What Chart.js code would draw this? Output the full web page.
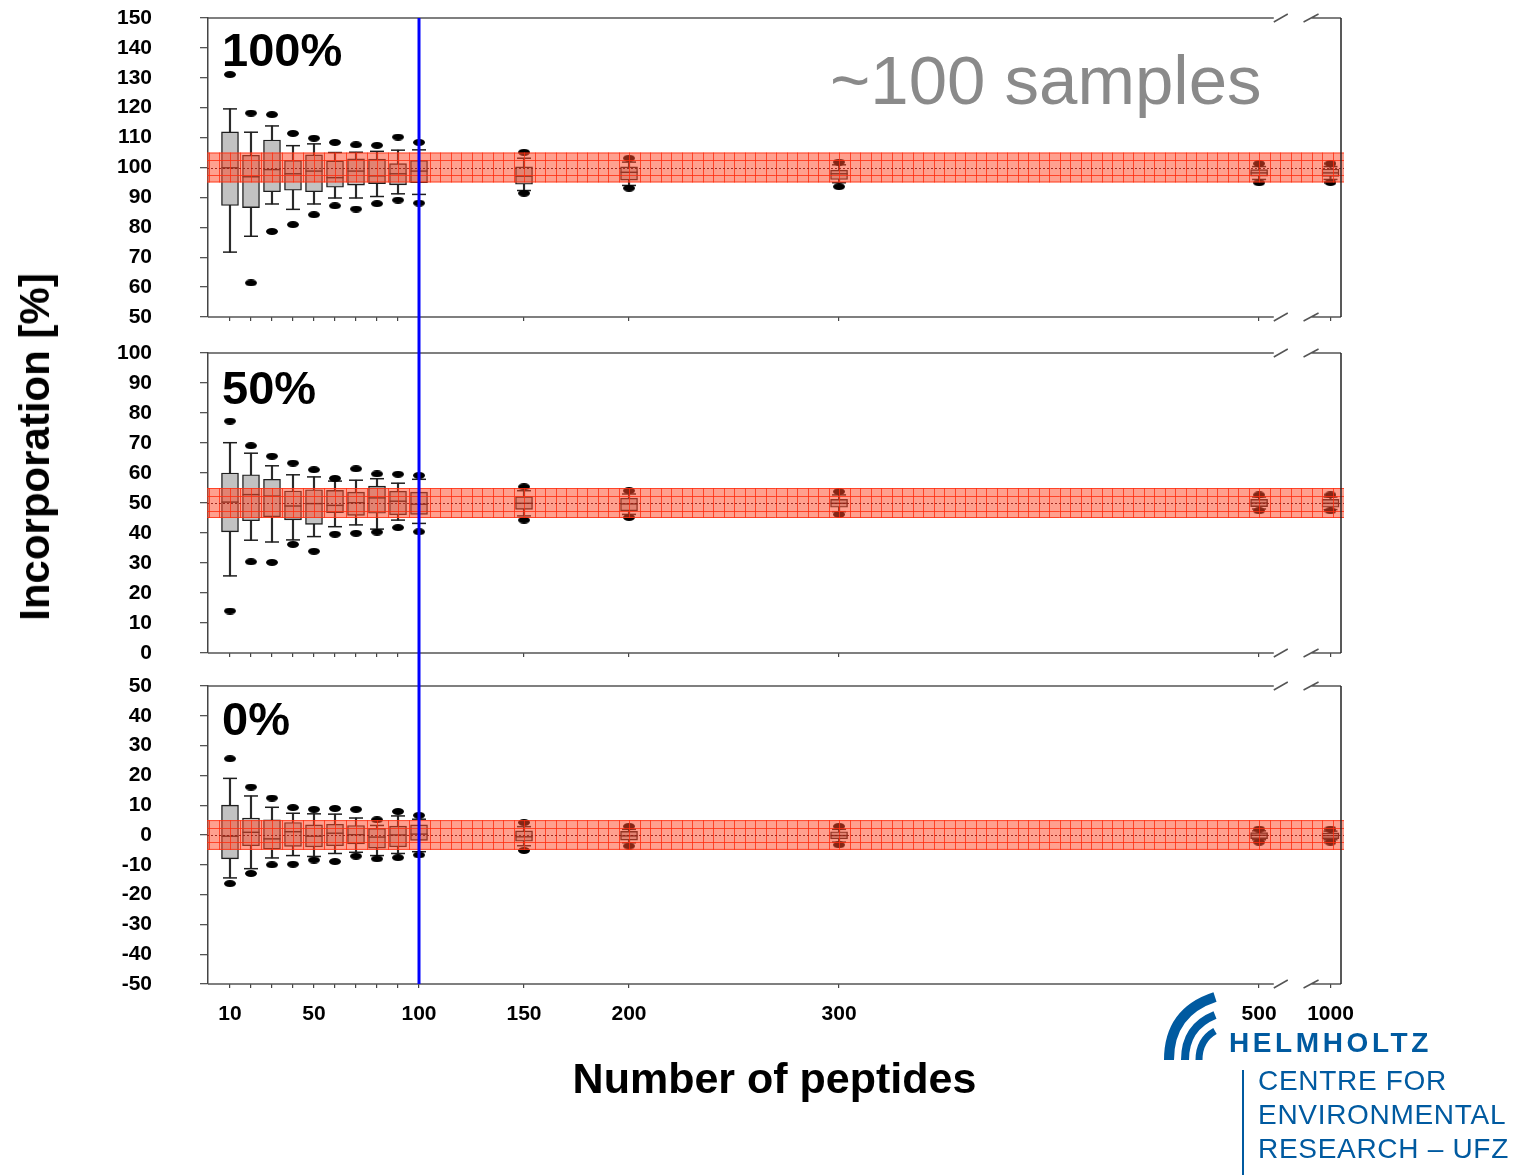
<!doctype html>
<html lang="en">
<head>
<meta charset="utf-8">
<title>Incorporation vs number of peptides</title>
<script src="https://cdn.jsdelivr.net/npm/chart.js"></script>
<style>
  html, body { margin: 0; padding: 0; background: #fff; }
  body { width: 1520px; height: 1175px; position: relative; overflow: hidden;
         font-family: "Liberation Sans", Arial, sans-serif; }
  canvas { position: absolute; left: 0; }
  #panelTop { top: 0; }
  #panelMid { top: 335px; }
  #panelBot { top: 670px; }
  .panel-label { position: absolute; left: 222px; font-weight: bold; font-size: 47px; line-height: 1; color: #000; }
  #ylabel { position: absolute; left: 35px; top: 447px; transform: translate(-50%, -50%) rotate(-90deg);
            font-weight: bold; font-size: 42px; white-space: nowrap; color: #000; }
  #samples { position: absolute; left: 830px; top: 46px; font-size: 69px; line-height: 1; color: #8a8a8a; }
  .ufz { position: absolute; color: #005aa0; white-space: nowrap; }
  #helmholtz { left: 1229px; top: 1029px; font-size: 28px; font-weight: bold; letter-spacing: 3.6px; line-height: 1; }
  #centre { left: 1258px; top: 1064px; font-size: 28px; line-height: 34px; letter-spacing: 0.7px; }
  #ufzbar { position: absolute; left: 1242px; top: 1070px; width: 2px; height: 105px; background: #005aa0; }
  #swoosh { position: absolute; left: 1155px; top: 990px; }
</style>
</head>
<body>
<canvas id="panelTop" width="1520" height="335"></canvas>
<canvas id="panelMid" width="1520" height="335"></canvas>
<canvas id="panelBot" width="1520" height="505"></canvas>

<div id="ylabel">Incorporation [%]</div>
<div class="panel-label" style="top:26px">100%</div>
<div class="panel-label" style="top:364px">50%</div>
<div class="panel-label" style="top:695px">0%</div>
<div id="samples">~100 samples</div>

<svg id="swoosh" width="70" height="72" viewBox="0 0 70 72">
  <g fill="none" stroke="#005aa0" stroke-linecap="butt">
    <path d="M14,70 Q14,22 60,7" stroke-width="10"/>
    <path d="M30,70 Q30,37 60,25" stroke-width="8"/>
    <path d="M44,70 Q44,50 60,41" stroke-width="7"/>
  </g>
</svg>
<div class="ufz" id="helmholtz">HELMHOLTZ</div>
<div id="ufzbar"></div>
<div class="ufz" id="centre">CENTRE FOR<br>ENVIRONMENTAL<br>RESEARCH – UFZ</div>

<script>
// number of peptides per simulated sample set
var peptideCounts = [10, 20, 30, 40, 50, 60, 70, 80, 90, 100, 150, 200, 300, 500, 1000];
var labelledCounts = [10, 50, 100, 150, 200, 300, 500, 1000];

// 100% incorporation
var full_q1      = [87.3, 86.6, 91.9, 92.4, 91.9, 93.4, 94.1, 94.6, 94.2, 94.9, 94.4, 95.8, 96.0, 97.1, 97.0];
var full_q3      = [111.9, 104.1, 109.2, 102.4, 104.2, 102.2, 102.9, 102.8, 101.3, 102.4, 100.2, 100.2, 99.1, 99.3, 99.5];
var full_median  = [99.9, 96.9, 99.3, 97.9, 98.8, 96.6, 98.8, 97.2, 97.9, 98.8, 97.1, 98.4, 97.9, 98.2, 98.2];
var full_whiskLo = [71.7, 77.0, 87.8, 86.0, 87.8, 89.8, 89.8, 90.3, 91.2, 91.0, 92.3, 94.0, 94.9, 96.0, 96.0];
var full_whiskHi = [119.6, 111.8, 113.9, 107.3, 107.9, 105.0, 105.1, 105.4, 105.8, 105.9, 103.1, 101.8, 100.9, 100.3, 100.3];
var full_outLo   = [null, 61.4, 78.6, 80.9, 84.2, 87.2, 86.1, 87.9, 89.1, 88.1, 91.4, 93.1, 93.6, 94.9, 95.0];
var full_outHi   = [131.1, 118.2, 117.7, 111.4, 109.8, 108.4, 107.6, 107.4, 110.2, 108.4, 105.1, 103.1, 101.8, 101.3, 101.3];

// 50% incorporation
var half_q1      = [40.4, 44.1, 45.4, 44.4, 42.9, 46.8, 45.9, 46.6, 46.1, 46.2, 47.9, 47.4, 48.6, 48.8, 48.6];
var half_q3      = [60.0, 59.4, 57.9, 54.0, 54.4, 54.2, 53.6, 55.6, 53.9, 53.6, 52.1, 51.6, 51.2, 51.2, 51.2];
var half_median  = [50.3, 52.8, 52.3, 49.0, 49.8, 49.2, 50.1, 51.7, 50.6, 49.6, 49.9, 49.7, 49.9, 50.0, 49.9];
var half_whiskLo = [25.7, 37.6, 37.0, 37.7, 38.8, 42.1, 42.7, 41.3, 44.3, 43.2, 45.7, 46.2, 47.1, 48.0, 47.8];
var half_whiskHi = [70.1, 66.6, 62.4, 59.4, 58.7, 57.3, 57.6, 58.1, 56.6, 57.9, 54.1, 53.0, 52.7, 52.0, 52.0];
var half_outLo   = [14.0, 30.4, 30.2, 36.2, 33.9, 39.6, 39.9, 40.3, 41.8, 40.4, 44.3, 45.2, 46.2, 47.4, 47.4];
var half_outHi   = [77.3, 69.1, 65.6, 63.3, 61.1, 58.2, 61.4, 59.7, 59.6, 59.2, 55.4, 54.1, 53.8, 52.7, 52.7];

// 0% incorporation
var zero_q1      = [-8.0, -3.6, -4.7, -3.8, -4.0, -3.6, -3.0, -4.4, -4.0, -1.8, -2.1, -1.7, -1.3, -1.2, -1.2];
var zero_q3      = [10.0, 5.7, 5.1, 4.2, 3.4, 3.6, 3.2, 2.2, 3.0, 3.4, 1.4, 1.2, 1.1, 0.8, 0.7];
var zero_median  = [-0.4, 0.9, -1.3, 1.1, -0.4, 0.6, 0.1, -0.7, 0.0, 0.3, -0.6, -0.3, -0.2, -0.1, -0.2];
var zero_whiskLo = [-14.4, -11.3, -7.7, -6.9, -7.2, -6.2, -5.8, -6.9, -6.2, -5.6, -3.6, -2.6, -2.4, -1.6, -1.6];
var zero_whiskHi = [19.0, 13.1, 9.3, 7.3, 7.1, 7.0, 5.7, 3.2, 6.4, 5.3, 2.8, 1.9, 1.9, 1.4, 1.3];
var zero_outLo   = [-16.3, -12.9, -10.0, -9.8, -8.4, -8.9, -7.1, -8.0, -7.6, -6.7, -5.2, -3.7, -3.3, -2.4, -2.4];
var zero_outHi   = [25.6, 16.1, 12.4, 9.2, 8.6, 8.9, 8.6, 5.1, 7.9, 6.6, 4.2, 2.9, 2.9, 2.0, 2.0];

// expected value band (target +/- 5 %)
var bandCenters = [100, 50, 0];
var bandHalfWidth = 5;

// x axis is broken between 500 and 1000; 1000 sits just past the break
var AXIS_1000 = 534;
var AXIS_BREAK = [507, 524.5];
function axisPos(n) { return n === 1000 ? AXIS_1000 : n; }

Chart.defaults.font.family = '"Liberation Sans", Arial, sans-serif';

// black ellipse used for outlier points
var dot = document.createElement('canvas');
dot.width = 12; dot.height = 7;
(function () {
  var g = dot.getContext('2d');
  g.fillStyle = '#000';
  g.beginPath();
  g.ellipse(6, 3.5, 6, 3.5, 0, 0, Math.PI * 2);
  g.fill();
})();

var bandPlugin = {
  id: 'targetBand',
  afterDatasetsDraw: function (chart, args, opts) {
    var ctx = chart.ctx, a = chart.chartArea, x = chart.scales.x, y = chart.scales.y;
    var top = y.getPixelForValue(opts.center + bandHalfWidth);
    var bot = y.getPixelForValue(opts.center - bandHalfWidth);
    var left = a.left - 1, right = a.right + 3;
    ctx.save();
    ctx.fillStyle = 'rgba(255, 72, 40, 0.52)';
    ctx.fillRect(left, top, right - left, bot - top);
    ctx.strokeStyle = 'rgba(255, 45, 15, 0.8)';
    ctx.lineWidth = 1;
    ctx.beginPath();
    for (var v = 0; v < x.max; v += 5) {
      var px = Math.round(x.getPixelForValue(v)) + 0.5;
      ctx.moveTo(px, top); ctx.lineTo(px, bot);
    }
    [opts.center + 2.5, opts.center - 2.5].forEach(function (val) {
      var py = Math.round(y.getPixelForValue(val)) + 0.5;
      ctx.moveTo(left, py); ctx.lineTo(right, py);
    });
    ctx.moveTo(left, top + 0.5); ctx.lineTo(right, top + 0.5);
    ctx.moveTo(left, bot - 0.5); ctx.lineTo(right, bot - 0.5);
    ctx.stroke();
    // dotted target line
    ctx.strokeStyle = 'rgba(150, 30, 20, 0.9)';
    ctx.setLineDash([2, 2]);
    ctx.beginPath();
    var cy = Math.round(y.getPixelForValue(opts.center)) + 0.5;
    ctx.moveTo(left, cy); ctx.lineTo(right, cy);
    ctx.stroke();
    ctx.restore();
  }
};

var framePlugin = {
  id: 'brokenFrame',
  afterDraw: function (chart) {
    var ctx = chart.ctx, a = chart.chartArea, x = chart.scales.x;
    var gapL = x.getPixelForValue(AXIS_BREAK[0]), gapR = x.getPixelForValue(AXIS_BREAK[1]);
    ctx.save();
    ctx.lineWidth = 1.5;
    ctx.strokeStyle = '#555';
    ctx.beginPath();
    [a.top, a.bottom].forEach(function (yy) {
      ctx.moveTo(a.left, yy); ctx.lineTo(gapL, yy);
      ctx.moveTo(gapR, yy); ctx.lineTo(a.right, yy);
      ctx.moveTo(gapL, yy + 4); ctx.lineTo(gapL + 14, yy - 4);
      ctx.moveTo(gapR - 7, yy + 4); ctx.lineTo(gapR + 8, yy - 4);
    });
    ctx.stroke();
    ctx.strokeStyle = '#222';
    ctx.beginPath();
    ctx.moveTo(a.right, a.top); ctx.lineTo(a.right, a.bottom);
    ctx.stroke();
    ctx.restore();
  }
};

// vertical marker at 100 peptides, continued across the gaps between panels
var markerPlugin = {
  id: 'marker100',
  afterDraw: function (chart, args, opts) {
    var ctx = chart.ctx, a = chart.chartArea;
    var px = chart.scales.x.getPixelForValue(opts.at);
    ctx.save();
    ctx.strokeStyle = '#0000ff';
    ctx.lineWidth = 3;
    ctx.beginPath();
    ctx.moveTo(px, opts.extendUp ? 0 : a.top);
    ctx.lineTo(px, opts.extendDown ? chart.height : a.bottom);
    ctx.stroke();
    ctx.restore();
  }
};

function makePanel(id, p) {
  var xs = peptideCounts.map(axisPos);
  var whisk = [], boxes = [], caps = [], meds = [], outs = [];
  xs.forEach(function (xv, i) {
    whisk.push({ x: xv, y: [p.whiskLo[i], p.whiskHi[i]] });
    boxes.push({ x: xv, y: [p.q1[i], p.q3[i]] });
    caps.push({ x: xv, y: p.whiskHi[i] }, { x: xv, y: p.whiskLo[i] });
    meds.push({ x: xv, y: p.median[i] });
    if (p.outHi[i] != null) outs.push({ x: xv, y: p.outHi[i] });
    if (p.outLo[i] != null) outs.push({ x: xv, y: p.outLo[i] });
  });

  var xScale = {
    type: 'linear', min: -0.47, max: 539, offset: false,
    afterBuildTicks: function (s) { s.ticks = xs.map(function (v) { return { value: v }; }); },
    afterFit: function (s) { s.height = p.xHeight; },
    ticks: {
      display: p.showX, autoSkip: false, maxRotation: 0, padding: 14,
      color: '#000', font: { size: 21, weight: 'bold' },
      callback: function (v) {
        var n = v === AXIS_1000 ? 1000 : v;
        return labelledCounts.indexOf(n) >= 0 ? String(n) : '';
      }
    },
    grid: { drawOnChartArea: false, offset: false, tickLength: 4, color: '#444', lineWidth: 1.2 },
    border: { display: false },
    title: {
      display: p.showX, text: 'Number of peptides', color: '#000',
      font: { size: 43, weight: 'bold' }, padding: { top: 0, bottom: 68 }
    }
  };

  return new Chart(document.getElementById(id), {
    type: 'bar',
    data: {
      datasets: [
        { type: 'bar', data: whisk, grouped: false, barThickness: 1.5, backgroundColor: '#2a2a2a', borderWidth: 0, order: 4 },
        { type: 'bar', data: boxes, grouped: false, barThickness: 17, backgroundColor: '#c2c2c2',
          borderColor: '#1e1e1e', borderWidth: 1.4, borderSkipped: false, order: 3 },
        { type: 'scatter', data: caps, pointStyle: 'line', pointRadius: 7, borderColor: '#1e1e1e',
          pointBorderColor: '#1e1e1e', pointBorderWidth: 1.5, borderWidth: 1.5, order: 2 },
        { type: 'scatter', data: meds, pointStyle: 'line', pointRadius: 8.5, borderColor: '#1e1e1e',
          pointBorderColor: '#1e1e1e', pointBorderWidth: 1.4, borderWidth: 1.4, order: 1 },
        { type: 'scatter', data: outs, pointStyle: dot, pointRadius: 6, order: 1 }
      ]
    },
    options: {
      responsive: false,
      animation: false,
      events: [],
      layout: { padding: { top: p.padTop, right: 179, bottom: 0, left: 0 } },
      plugins: {
        legend: { display: false },
        tooltip: { enabled: false },
        targetBand: { center: p.band },
        marker100: { at: 100, extendUp: p.extendUp, extendDown: p.extendDown }
      },
      scales: {
        x: xScale,
        y: {
          min: p.yMin, max: p.yMax,
          afterFit: function (s) {
            s.width = 208;
            // the wide label gap should not eat into the plot height
            s.paddingTop = 12;
            s.paddingBottom = 12;
          },
          ticks: { stepSize: 10, autoSkip: false, color: '#000', font: { size: 21, weight: 'bold' }, padding: 48 },
          grid: { drawOnChartArea: false, tickLength: 8, color: '#555', lineWidth: 1.3 },
          border: { display: true, color: '#444', width: 1.5 }
        }
      }
    },
    plugins: [bandPlugin, framePlugin, markerPlugin]
  });
}

makePanel('panelTop', {
  yMin: 50, yMax: 150, band: bandCenters[0], padTop: 18, xHeight: 18, showX: false,
  extendUp: false, extendDown: true,
  q1: full_q1, q3: full_q3, median: full_median, whiskLo: full_whiskLo, whiskHi: full_whiskHi,
  outLo: full_outLo, outHi: full_outHi
});
makePanel('panelMid', {
  yMin: 0, yMax: 100, band: bandCenters[1], padTop: 18, xHeight: 17, showX: false,
  extendUp: true, extendDown: true,
  q1: half_q1, q3: half_q3, median: half_median, whiskLo: half_whiskLo, whiskHi: half_whiskHi,
  outLo: half_outLo, outHi: half_outHi
});
makePanel('panelBot', {
  yMin: -50, yMax: 50, band: bandCenters[2], padTop: 16, xHeight: 191, showX: true,
  extendUp: true, extendDown: false,
  q1: zero_q1, q3: zero_q3, median: zero_median, whiskLo: zero_whiskLo, whiskHi: zero_whiskHi,
  outLo: zero_outLo, outHi: zero_outHi
});
</script>
</body>
</html>
